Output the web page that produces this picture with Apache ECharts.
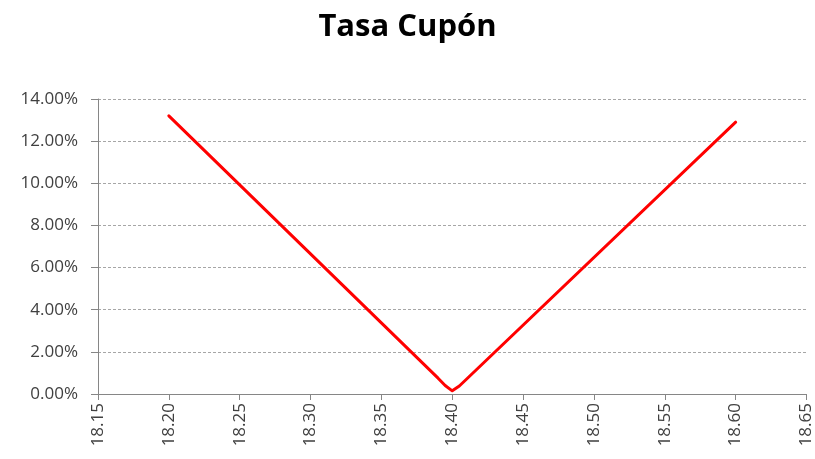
<!DOCTYPE html>
<html><head><meta charset="utf-8">
<script src="https://cdn.jsdelivr.net/npm/echarts@6/dist/echarts.min.js"></script>
<style>html,body{margin:0;padding:0;background:#fff}#c{width:815px;height:459px}</style>
</head><body><div id="c"></div>
<script>
const titleText = 'Tasa Cupón';
const xValues = [18.20, 18.39, 18.395, 18.40, 18.405, 18.41, 18.60];
const yValues = [13.20, 0.75, 0.40, 0.15, 0.38, 0.70, 12.90];
const xTicks = {min: 18.15, max: 18.65, interval: 0.05};
const yTicks = {min: 0, max: 14, interval: 2};

const chart = echarts.init(document.getElementById('c'), null, {renderer: 'canvas'});
chart.setOption({
  animation: false,
  title: {text: titleText, left: 'center', top: 7,
    textStyle: {fontFamily: 'Open Sans', fontSize: 31, fontWeight: 'bold', color: '#000'}},
  grid: {left: 98, right: 8, top: 99, bottom: 65, containLabel: false},
  xAxis: {type: 'value', min: xTicks.min, max: xTicks.max, interval: xTicks.interval,
    axisLine: {show: true, lineStyle: {color: '#868686'}},
    axisTick: {show: true, length: 6, inside: false, lineStyle: {color: '#868686'}},
    splitLine: {show: false},
    axisLabel: {rotate: 90, margin: 9, color: '#404040', fontFamily: 'Open Sans', fontSize: 17,
      formatter: v => v.toFixed(2)}},
  yAxis: {type: 'value', min: yTicks.min, max: yTicks.max, interval: yTicks.interval,
    axisLine: {show: true, lineStyle: {color: '#868686'}},
    axisTick: {show: true, length: 7, lineStyle: {color: '#868686'}},
    splitLine: {show: true, lineStyle: {color: '#a6a6a6', type: [3, 2], width: 1}},
    axisLabel: {margin: 20, color: '#404040', fontFamily: 'Open Sans', fontSize: 17,
      formatter: v => v.toFixed(2) + '%'}},
  series: [{type: 'line', data: xValues.map((x, i) => [x, yValues[i]]),
    showSymbol: false, smooth: false, lineStyle: {color: '#ff0000', width: 3, join: 'round', cap: 'round'},
    itemStyle: {color: '#ff0000'}}]
});
</script></body></html>
